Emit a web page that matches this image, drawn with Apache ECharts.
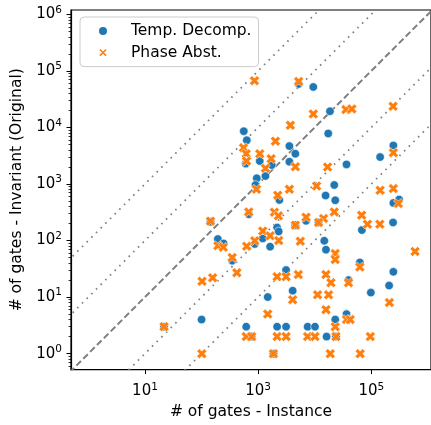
<!DOCTYPE html>
<html><head><meta charset="utf-8">
<script src="https://cdn.jsdelivr.net/npm/echarts@6/dist/echarts.min.js"></script>
<style>html,body{margin:0;padding:0;background:#fff}#c{width:431px;height:425px}</style>
</head><body><div id="c"></div>
<script>
// ---- data ----
const tempX = [5190,9420,18600,17300,557,630,605,1067,945,896,1345,1737,3562,4541,3562,245000,142900,36400,22100,15530,23020,2373,245000,309000,683,144,194,245,871,1205,348,100,615,7015,242000,68000,1627,2162,2306,4541,11690,14730,15780,62700,245000,206000,98000,3115,39500,4070,1476,36400,23020,2162,3115,7480,10100,16180,23700,1862,21.7,762];
const tempY = [58600,51900,19300,7800,8570,5940,2290,2540,1260,959,1380,2160,4670,3430,2480,4800,2990,2220,959,624,515,522,462,530,292,214,106,89,87,109,44,4,3,223,209,153,78,170,145,187,209,99,69,41,28,16,12,30,20,13,10,5,4,3,3,3,3,2,2,1,3,2];
const phaseX = [861,5190,35560,45300,242000,9420,3707,2018,551,615,1067,623,1694,1345,4541,16840,245000,933,3562,10780,142900,245000,2215,300500,683,1938,2279,22100,67450,144,7015,14320,11690,4541,85300,141200,1205,1627,871,2306,5560,194,242,627,23020,23020,591000,348,62700,420,157,102,2162,3115,5130,15780,19330,39500,208500,4070,11220,17540,1476,15780,36400,42300,23020,21.7,615,768,2162,3115,7480,10100,23700,96000,101,1862,18800,63500];
const phaseY = [67000,65000,20650,21250,23600,17350,10920,5710,4370,3430,3430,2540,2800,1890,2020,1990,3570,805,805,920,773,829,631,451,321,317,273,321,281,220,259,245,209,187,195,195,147,121,99,100,97,81,76,79,59,46,64,50,34,27,22,19,23,23,25,25,18,18,8,9,11,11,5,6,4,4,3,3,2,2,2,2,2,2,2,2,1,1,1,1];
const refRatios = [100, 10, 1, 0.1, 0.01];   // y = k * x guide lines
const xTickValues = [10, 1000, 100000];
const yTickValues = [1, 10, 100, 1000, 10000, 100000, 1000000];
const minorMultipliers = [2,3,4,5,6,7,8,9];
const xMin = 0.4932, xMax = 1132400, yMin = 0.5224, yMax = 1191000;

const yMinorValues = [];
[0.1].concat(yTickValues).forEach(d => minorMultipliers.forEach(m => {
  const v = d * m; if (v > yMin && v < yMax) yMinorValues.push(v);
}));

const FONT = 'DejaVu Sans';
const pairs = (xs, ys) => xs.map((x, i) => [x, ys[i]]);
const supLabel = v => '{b|10}{s|' + Math.round(Math.log10(v)) + '}';
const richLab = {
  b: {fontSize: 15, lineHeight: 20, fontFamily: FONT, color: '#000'},
  s: {fontSize: 10.5, lineHeight: 8, verticalAlign: 'top', fontFamily: FONT, color: '#000'}
};
const XPATH = 'path://M6,0L8,2L6,4L8,6L6,8L4,6L2,8L0,6L2,4L0,2L2,0L4,2Z';

const guideSeries = refRatios.map(k => ({
  type: 'line', silent: true, symbol: 'none', clip: true, z: 1,
  data: [[1e-3, 1e-3 * k], [1e8, 1e8 * k]],
  lineStyle: k === 1
    ? {color: '#808080', width: 2, type: [6.5, 3.2]}
    : {color: '#808080', width: 1.8, type: [1.6, 5], cap: 'butt'}
}));

const chart = echarts.init(document.getElementById('c'), null, {renderer: 'canvas'});
chart.setOption({
  animation: false,
  backgroundColor: '#fff',
  grid: {left: 71, top: 10, width: 361, height: 361, show: true, borderColor: '#000', borderWidth: 1.2, backgroundColor: 'transparent'},
  legend: {
    data: ['Temp. Decomp.', 'Phase Abst.'],
    orient: 'vertical', left: 80, top: 17,
    padding: [6, 7, 6, 17], itemGap: 5.6, itemWidth: 10, itemHeight: 10,
    borderColor: '#cccccc', borderWidth: 1, borderRadius: 4,
    backgroundColor: 'rgba(255,255,255,0.85)', z: 10,
    textStyle: {fontFamily: FONT, fontSize: 15.5, color: '#000', lineHeight: 16, padding: [0, 0, 0, 18]}
  },
  xAxis: {
    type: 'log', logBase: 10, min: xMin, max: xMax,
    name: '# of gates - Instance', nameLocation: 'middle', nameGap: 30,
    nameTextStyle: {fontFamily: FONT, fontSize: 15.5, color: '#000'},
    axisLine: {show: true, lineStyle: {color: '#000', width: 1.2}},
    axisTick: {show: true, length: 4.5, lineStyle: {color: '#000', width: 1}, customValues: xTickValues},
    axisLabel: {margin: 12, customValues: xTickValues, formatter: supLabel, rich: richLab},
    splitLine: {show: false}, minorTick: {show: false}
  },
  yAxis: [{
    type: 'log', logBase: 10, min: yMin, max: yMax,
    name: '# of gates - Invariant (Original)', nameLocation: 'middle', nameGap: 45,
    nameTextStyle: {fontFamily: FONT, fontSize: 15.5, color: '#000'},
    axisLine: {show: true, lineStyle: {color: '#000', width: 1.2}},
    axisTick: {show: true, length: 4.5, lineStyle: {color: '#000', width: 1}, customValues: yTickValues},
    axisLabel: {margin: 9, customValues: yTickValues, formatter: supLabel, rich: richLab},
    splitLine: {show: false}
  }, {
    type: 'log', logBase: 10, min: yMin, max: yMax, position: 'left',
    axisLine: {show: false},
    axisTick: {show: true, length: 2.5, lineStyle: {color: '#000', width: 0.8}, customValues: yMinorValues},
    axisLabel: {show: false}, splitLine: {show: false}
  }],
  series: guideSeries.concat([
    {name: 'Temp. Decomp.', type: 'scatter', z: 3, symbol: 'circle', symbolSize: 8.5,
     itemStyle: {color: '#1f77b4', borderColor: '#fff', borderWidth: 0.6, opacity: 1},
     data: pairs(tempX, tempY)},
    {name: 'Phase Abst.', type: 'scatter', z: 4, symbol: XPATH, symbolSize: 10,
     itemStyle: {color: '#ff7f0e', borderColor: '#fff', borderWidth: 0.5, opacity: 1},
     data: pairs(phaseX, phaseY)}
  ])
});
</script></body></html>
